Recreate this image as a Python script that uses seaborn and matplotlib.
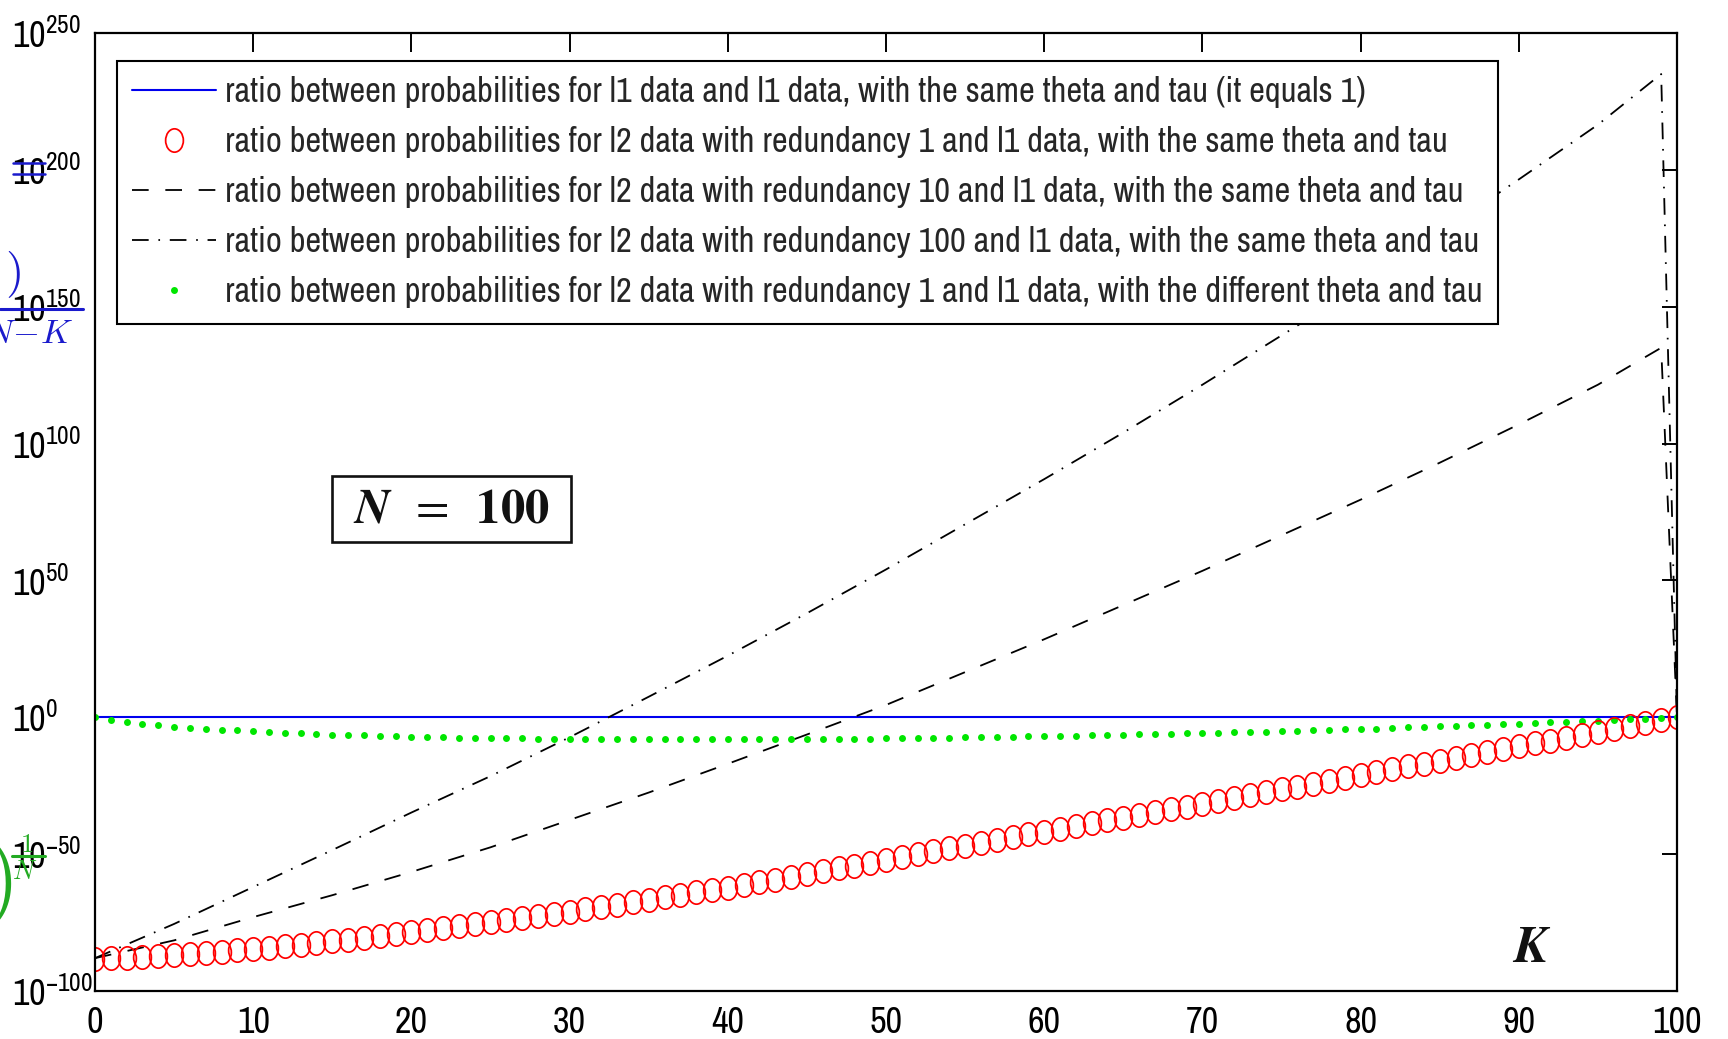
import numpy as np
import matplotlib
matplotlib.use("Agg")
import matplotlib.pyplot as plt
from matplotlib import font_manager as fm
from matplotlib.path import Path
from matplotlib.patches import Rectangle
from matplotlib.transforms import Affine2D
from matplotlib.lines import Line2D
from matplotlib.ticker import FixedLocator, LogFormatterSciNotation
import seaborn as sns

# ---------------------------------------------------------------- data
K = list(range(0, 101))

# log10 of the ratio, l2 (redundancy 1) vs l1, same theta and tau
red_log10 = [
    -88.2, -88.0, -87.8, -87.5, -87.2, -86.9, -86.5, -86.1, -85.7, -85.2,
    -84.7, -84.2, -83.7, -83.1, -82.5, -81.9, -81.3, -80.6, -79.9, -79.2,
    -78.5, -77.8, -77.1, -76.4, -75.6, -74.9, -74.1, -73.3, -72.5, -71.8,
    -71.0, -70.1, -69.3, -68.4, -67.6, -66.7, -65.8, -64.9, -64.0, -63.2,
    -62.3, -61.3, -60.3, -59.3, -58.3, -57.3, -56.2, -55.2, -54.2, -53.1,
    -52.1, -51.0, -50.0, -49.0, -47.9, -46.9, -45.8, -44.8, -43.8, -42.8,
    -41.8, -40.8, -39.7, -38.7, -37.7, -36.7, -35.7, -34.6, -33.6, -32.6,
    -31.6, -30.5, -29.5, -28.4, -27.4, -26.3, -25.3, -24.2, -23.2, -22.1,
    -21.1, -20.0, -19.0, -17.9, -16.9, -15.8, -14.8, -13.7, -12.7, -11.6,
    -10.6, -9.5, -8.5, -7.4, -6.4, -5.3, -4.2, -3.2, -2.1, -1.1,
    0.0,
]

# log10 of the ratio, l2 (redundancy 1) vs l1, different theta and tau
green_log10 = [
    0.0, -1.1, -1.8, -2.4, -2.9, -3.4, -3.8, -4.2, -4.5, -4.8,
    -5.1, -5.4, -5.6, -5.9, -6.1, -6.3, -6.5, -6.6, -6.8, -6.9,
    -7.1, -7.2, -7.3, -7.4, -7.5, -7.6, -7.7, -7.7, -7.8, -7.9,
    -7.9, -8.0, -8.0, -8.0, -8.1, -8.1, -8.1, -8.1, -8.1, -8.1,
    -8.1, -8.1, -8.1, -8.0, -8.0, -8.0, -7.9, -7.9, -7.8, -7.8,
    -7.7, -7.6, -7.6, -7.5, -7.4, -7.3, -7.2, -7.2, -7.1, -7.0,
    -6.9, -6.8, -6.7, -6.6, -6.5, -6.4, -6.2, -6.1, -6.0, -5.9,
    -5.7, -5.6, -5.5, -5.3, -5.2, -5.0, -4.9, -4.7, -4.6, -4.4,
    -4.2, -4.1, -3.9, -3.7, -3.5, -3.3, -3.1, -2.9, -2.7, -2.5,
    -2.3, -2.1, -1.9, -1.6, -1.4, -1.2, -0.9, -0.7, -0.5, -0.2,
    0.0,
]

# l1 vs l1 with the same theta and tau is identically 1
blue_ratio = [1.0] * len(K)

# redundancy 10 and redundancy 100 curves
K_curve = [0, 5, 10, 15, 20, 25, 30, 35, 40, 45, 50, 55, 60, 65, 70,
           75, 80, 85, 90, 95, 99, 100]
r10_log10 = [-88.0, -81.5, -73.0, -65.0, -56.5, -47.5, -37.5, -27.5, -17.0,
             -6.3, 4.5, 16.5, 28.5, 41.0, 53.5, 66.5, 79.5, 93.0, 107.0,
             121.5, 135.0, 0.0]
r100_log10 = [-88.0, -75.5, -62.0, -48.5, -34.8, -21.5, -7.3, 7.5, 22.5,
              38.0, 54.0, 70.5, 87.0, 104.0, 121.5, 139.5, 157.5, 177.0,
              196.5, 216.5, 235.0, 0.0]

labels = [
    "ratio between probabilities for l1 data and l1 data, with the same theta and tau (it equals 1)",
    "ratio between probabilities for l2 data with redundancy 1 and l1 data, with the same theta and tau",
    "ratio between probabilities for l2 data with redundancy 10 and l1 data, with the same theta and tau",
    "ratio between probabilities for l2 data with redundancy 100 and l1 data, with the same theta and tau",
    "ratio between probabilities for l2 data with redundancy 1 and l1 data, with the different theta and tau",
]

x_ticks = list(range(0, 101, 10))
y_tick_exponents = [-100, -50, 0, 50, 100, 150, 200, 250]


# ---------------------------------------------------------------- fonts
def _is_regular(f):
    w = f.weight
    if isinstance(w, str):
        w = {"normal": 400, "regular": 400, "book": 400, "medium": 500,
             "light": 300}.get(w.lower(), 700)
    return f.style == "normal" and w < 600


def pick_narrow_font():
    entries = [f for f in fm.fontManager.ttflist if _is_regular(f)]
    for key in ("Narrow", "Condensed"):
        for pref in ("Liberation", "Roboto", "Noto Sans", "Open Sans",
                     "DejaVu Sans", ""):
            for f in entries:
                if key in f.name and f.name.startswith(pref):
                    return f.name, "normal"
    for fam in ("Liberation Sans", "Roboto", "Noto Sans", "Open Sans",
                "DejaVu Sans"):
        for f in entries:
            if f.name == fam and f.stretch in ("condensed", "semi-condensed",
                                                "extra-condensed"):
                return fam, f.stretch
    return "Liberation Sans", "normal"


sns.set_style("white")
base_font, base_stretch = pick_narrow_font()
plt.rcParams["font.family"] = [base_font, "DejaVu Sans"]
plt.rcParams["font.stretch"] = base_stretch
plt.rcParams["mathtext.fontset"] = "custom"
plt.rcParams["mathtext.rm"] = base_font
plt.rcParams["mathtext.it"] = base_font + ":italic"
plt.rcParams["mathtext.bf"] = base_font + ":bold"
plt.rcParams["lines.scale_dashes"] = False

W, H = 1728, 1039
fig = plt.figure(figsize=(W / 100, H / 100), dpi=100)
fig.patch.set_facecolor("white")
ax = fig.add_axes([95 / W, (H - 991) / H, (1677 - 95) / W, (991 - 33) / H])
ax.set_facecolor("white")
renderer = fig.canvas.get_renderer()


def text_extent(s, size):
    t = fig.text(0, 0, s, fontsize=size)
    bb = t.get_window_extent(renderer=renderer)
    t.remove()
    return bb.width, bb.height


# legend text sized so the longest entry spans ~1255 px
w20, _ = text_extent(labels[4], 20)
leg_fs = min(25.0, 20 * 1255.0 / w20)
_, leg_h = text_extent(labels[0], leg_fs)
leg_fs_px = leg_fs * 100 / 72
leg_spacing = max(0.1, (50.0 - leg_h) / leg_fs_px)

# tick label size so that "10" spans ~33 px
w10, _ = text_extent("10", 20)
tick_fs = min(30.0, 20 * 33.0 / w10)

BLUE = "#0000ee"
RED = "#ff0000"
GREEN = "#00e600"

# tall elliptical circle marker
ellipse = Path.unit_circle().transformed(Affine2D().scale(0.76, 1.0))

sns.lineplot(x=K, y=blue_ratio, ax=ax, color=BLUE, lw=1.5,
             errorbar=None, estimator=None, sort=False)
h_blue = ax.lines[-1]

sns.lineplot(x=K_curve, y=np.power(10.0, r10_log10), ax=ax, color="black",
             lw=1.3, linestyle=(0, (12, 12)), errorbar=None, estimator=None,
             sort=False)
h_r10 = ax.lines[-1]

sns.lineplot(x=K_curve, y=np.power(10.0, r100_log10), ax=ax, color="black",
             lw=1.3, linestyle=(0, (12, 7, 1.2, 7)), errorbar=None,
             estimator=None, sort=False)
h_r100 = ax.lines[-1]

sns.lineplot(x=K, y=np.power(10.0, green_log10), ax=ax, color=GREEN,
             linestyle="none", marker="o", markersize=5.0,
             markerfacecolor=GREEN, markeredgecolor=GREEN, markeredgewidth=0,
             errorbar=None, estimator=None, sort=False)
h_green = ax.lines[-1]

sns.lineplot(x=K, y=np.power(10.0, red_log10), ax=ax, color=RED,
             linestyle="none", marker=ellipse, markersize=16.8,
             markerfacecolor="none", markeredgecolor=RED, markeredgewidth=1.25,
             errorbar=None, estimator=None, sort=False)
h_red = ax.lines[-1]

# ---------------------------------------------------------------- axes
ax.set_yscale("log")
ax.set_xlim(0, 100)
ax.set_ylim(10.0 ** -100, 10.0 ** 250)
ax.xaxis.set_major_locator(FixedLocator(x_ticks))
ax.yaxis.set_major_locator(FixedLocator([10.0 ** e for e in y_tick_exponents]))
ax.yaxis.set_minor_locator(FixedLocator([]))
ax.yaxis.set_major_formatter(LogFormatterSciNotation())
ax.set_xlabel("")
ax.set_ylabel("")

ax.tick_params(axis="both", which="major", direction="in", top=True,
               right=True, colors="black", width=1.4, labelsize=tick_fs)
# y labels start at a common left edge so the "10" parts line up
ax.tick_params(axis="y", length=11, pad=(95 - 12) * 72 / 100)
ax.tick_params(axis="x", length=14, pad=11)
for lbl in ax.get_yticklabels():
    lbl.set_horizontalalignment("left")
for sp in ax.spines.values():
    sp.set_visible(True)
    sp.set_color("black")
    sp.set_linewidth(1.6)

# ---------------------------------------------------------------- legend
leg = ax.legend([h_blue, h_red, h_r10, h_r100, h_green], labels,
                loc="upper left",
                bbox_to_anchor=((117 - 95) / 1582, 1 - (61 - 33) / 958),
                borderaxespad=0, fontsize=leg_fs, frameon=True, fancybox=False,
                framealpha=1, edgecolor="black", facecolor="white",
                handlelength=60.0 / leg_fs, handletextpad=7.0 / leg_fs,
                labelspacing=leg_spacing, borderpad=11.0 / leg_fs,
                numpoints=1)
leg.get_frame().set_linewidth(1.5)

# ---------------------------------------------------------------- annotations
ax.add_patch(Rectangle((0.1498, 0.4687), 0.1511, 0.0689, transform=ax.transAxes,
                       facecolor="white", edgecolor="#111111", lw=1.9,
                       zorder=4))
ax.text(0.2253, 0.503, r"$\mathbfit{N}\;\;=\;\;\mathbf{100}$",
        transform=ax.transAxes, ha="center", va="center", fontsize=35,
        math_fontfamily="stix", color="#111111", zorder=5)

ax.text(0.908, 0.045, r"$\mathbfit{K}$", transform=ax.transAxes,
        ha="center", va="center", fontsize=37, math_fontfamily="stix",
        color="#111111")


def fx(px):
    return px / W


def fy(py):
    return 1 - py / H


# partially hidden y-axis title pieces at the left border
BLUE_TXT = "#1a1acc"
fig.text(fx(21), fy(275), r"$)$", color=BLUE_TXT, fontsize=34, ha="right",
         va="center", math_fontfamily="cm")
fig.add_artist(Line2D([fx(0), fx(83)], [fy(309), fy(309)], color=BLUE_TXT,
                      lw=2.2))
fig.text(fx(74), fy(343), r"$N\!-\!K$", color=BLUE_TXT, fontsize=25,
         ha="right", va="baseline", math_fontfamily="cm")
fig.add_artist(Line2D([fx(13), fx(45)], [fy(163), fy(163)], color=BLUE_TXT,
                      lw=1.8))
fig.add_artist(Line2D([fx(13), fx(45)], [fy(174), fy(174)], color=BLUE_TXT,
                      lw=1.8))

GREEN_TXT = "#22aa22"
fig.text(fx(12), fy(884), r"$)$", color=GREEN_TXT, fontsize=62, ha="right",
         va="center", math_fontfamily="cm")
fig.add_artist(Line2D([fx(12), fx(45)], [fy(856), fy(856)], color=GREEN_TXT,
                      lw=2.2))
fig.text(fx(27), fy(852), r"$1$", color=GREEN_TXT, fontsize=19,
         ha="center", va="baseline", math_fontfamily="cm")
fig.text(fx(25), fy(879), r"$N$", color=GREEN_TXT, fontsize=19,
         ha="center", va="baseline", math_fontfamily="cm")

fig.savefig("out.png", dpi=100, facecolor="white")
